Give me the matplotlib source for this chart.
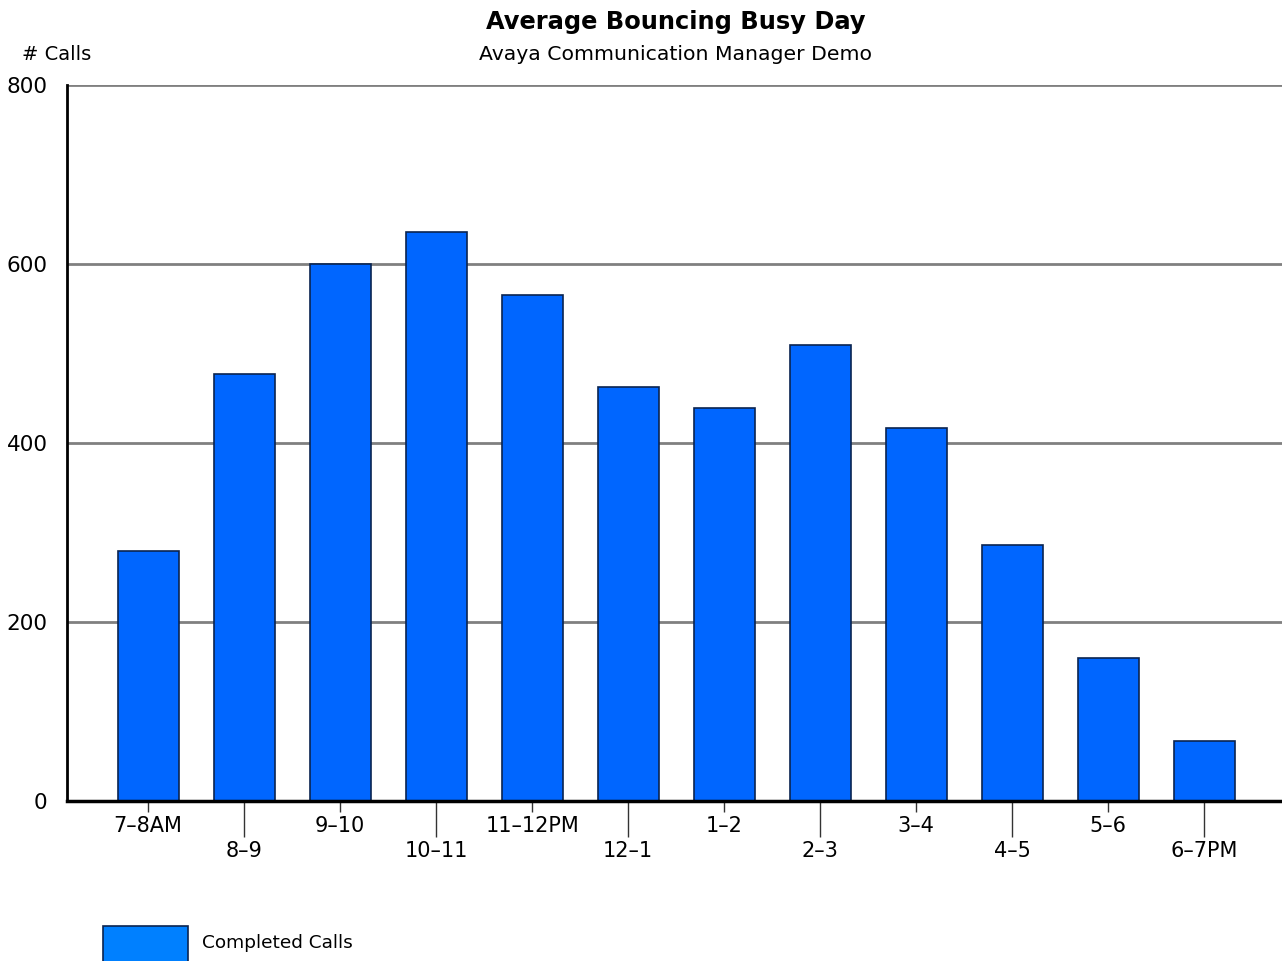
import matplotlib.pyplot as plt
from matplotlib.patches import Rectangle
import numpy as np

# hourly slots and average completed calls
hours = ['7–8AM', '8–9', '9–10', '10–11', '11–12PM', '12–1',
         '1–2', '2–3', '3–4', '4–5', '5–6', '6–7PM']
completed = [279, 477, 600, 636, 565, 463, 439, 510, 417, 286, 160, 67]
y_ticks = [0, 200, 400, 600, 800]

plt.rcParams['font.family'] = ['DejaVu Sans']

fig = plt.figure(figsize=(12.82, 9.61), dpi=100)
ax = fig.add_axes([67 / 1282, 1 - 801 / 961, 1 - 67 / 1282, (801 - 85) / 961])

x = np.arange(len(hours))
ax.bar(x, completed, width=0.635, color='#0066ff', edgecolor='#0a2450',
       linewidth=1.2, zorder=3)

ax.set_xlim(-0.844, 11.81)
ax.set_ylim(0, 800)
ax.set_yticks(y_ticks)
ax.set_yticklabels([str(v) for v in y_ticks], fontsize=15.5)
ax.tick_params(axis='y', length=0, pad=14)
ax.yaxis.grid(True, color='#808080', linewidth=2, zorder=1)

# alternate labels: even slots on short ticks, odd slots on long ticks
even = x[::2]
odd = x[1::2]
ax.set_xticks(even, [hours[i] for i in even])
ax.set_xticks(odd, [hours[i] for i in odd], minor=True)
ax.tick_params(axis='x', which='major', length=8, width=1, color='#333333',
               labelsize=15, pad=3)
ax.tick_params(axis='x', which='minor', length=26, width=1, color='#333333',
               labelsize=15, pad=3)

for s in ['top', 'right']:
    ax.spines[s].set_visible(False)
ax.spines['left'].set_linewidth(2)
ax.spines['bottom'].set_linewidth(2.5)
ax.spines['left'].set_zorder(4)
ax.spines['bottom'].set_zorder(4)

fig.text(676 / 1282, 1 - 22 / 961, 'Average Bouncing Busy Day', ha='center',
         va='center', fontsize=17.4, fontweight='bold')
fig.text(676 / 1282, 1 - 55 / 961, 'Avaya Communication Manager Demo',
         ha='center', va='center', fontsize=14.7)
fig.text(22 / 1282, 1 - 55 / 961, '# Calls', ha='left', va='center', fontsize=14)

# legend
fig.patches.append(Rectangle((103 / 1282, 1 - 975 / 961), 85 / 1282, 49 / 961,
                             transform=fig.transFigure, facecolor='#0080ff',
                             edgecolor='#0a2450', linewidth=1.2))
fig.text(202 / 1282, 1 - 943 / 961, 'Completed Calls', ha='left', va='center',
         fontsize=13.3)

fig.savefig('out.png', dpi=100)
